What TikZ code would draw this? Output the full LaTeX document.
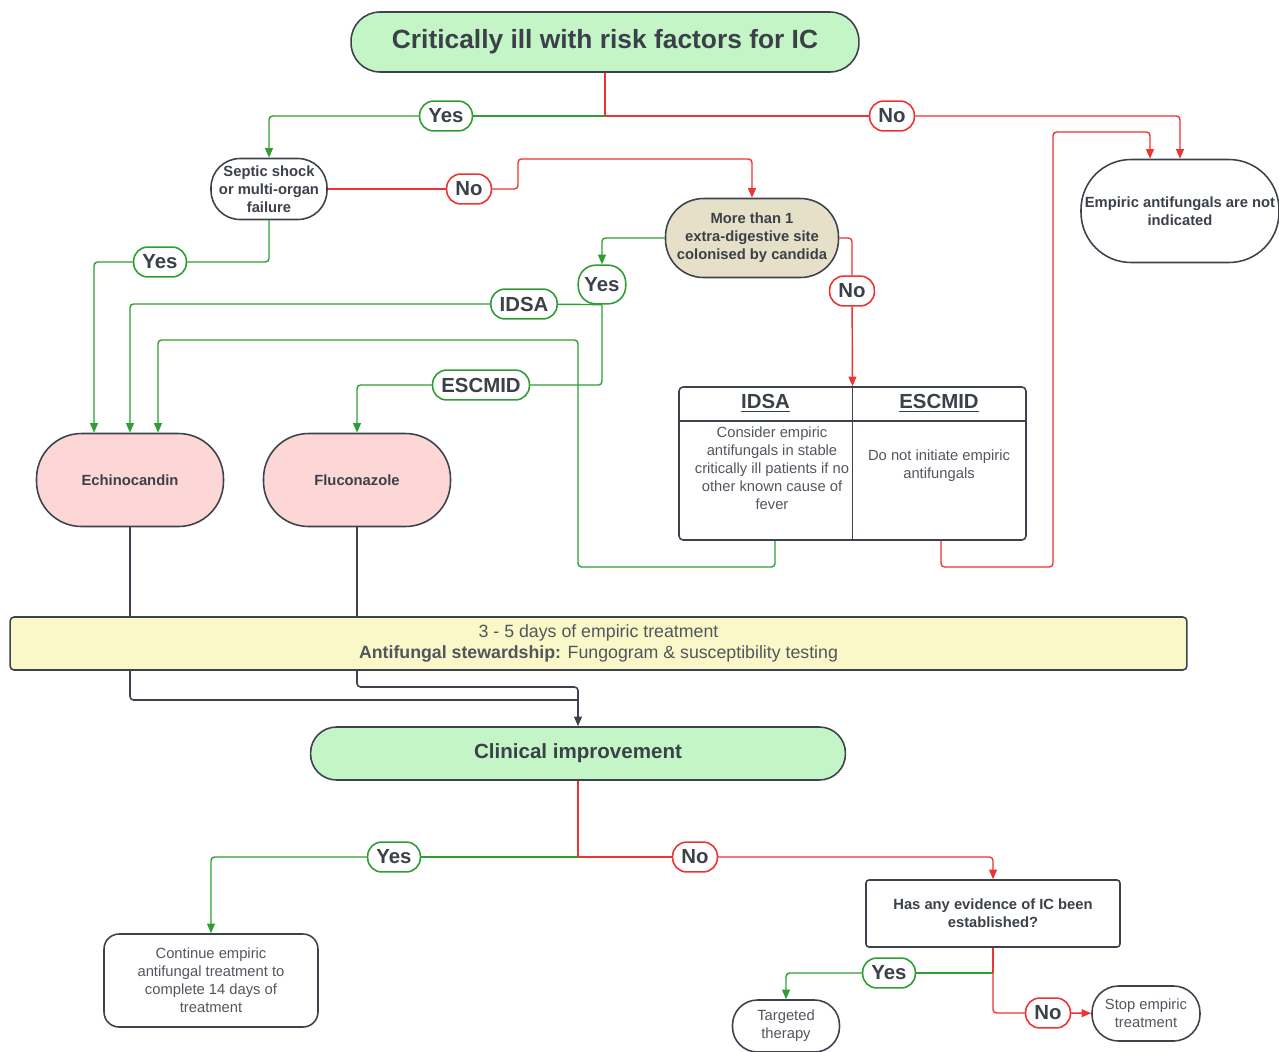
\documentclass[tikz,border=0pt]{standalone}
\usepackage{fontspec}
\setmainfont{Liberation Sans}
\usetikzlibrary{arrows.meta,calc}

\definecolor{mint}{HTML}{C3F5C6}
\definecolor{sand}{HTML}{E6E0C8}
\definecolor{rose}{HTML}{FDD6D6}
\definecolor{cream}{HTML}{FAF8C8}
\definecolor{edge}{HTML}{3D434C}
\definecolor{ink}{HTML}{3B4049}
\definecolor{inklt}{HTML}{51565E}
\definecolor{yesgreen}{HTML}{2E9E32}
\definecolor{nored}{HTML}{EE3333}

\newcommand{\fbig}{\fontsize{15}{18}\selectfont}
\newcommand{\fmid}{\fontsize{11.6}{14}\selectfont}
\newcommand{\fsm}{\fontsize{8.4}{10.25}\selectfont}
\newcommand{\fyel}{\fontsize{10.1}{12}\selectfont}

\tikzset{
  box/.style={draw=edge,line width=0.9pt,align=center,text=ink,inner sep=0pt},
  boldbox/.style={box,font=\fsm\bfseries},
  plainbox/.style={box,font=\fsm,text=inklt},
  yeslbl/.style={draw=yesgreen,line width=0.9pt,fill=white,rounded corners=8pt,
    minimum height=17pt,inner xsep=5pt,inner ysep=0pt,font=\fmid\bfseries,text=ink},
  nolbl/.style={yeslbl,draw=nored},
  grn/.style={yesgreen,line width=0.8pt,rounded corners=2pt},
  rd/.style={nored,line width=0.8pt,rounded corners=2pt},
  dk/.style={edge,line width=0.9pt,rounded corners=2pt}
}

\begin{document}
\begin{tikzpicture}[x=0.02cm,y=-0.02cm,>={Triangle[length=5.5pt,width=4.5pt]}]
        \useasboundingbox (0,0) rectangle (1279,1052);

        % boxes
        \node[boldbox,fill=mint,font=\fbig\bfseries,minimum width=10.16cm,minimum height=1.2cm,rounded corners=0.58cm] (title) at (605,42) {Critically ill with risk factors for IC};
        \node[boldbox,minimum width=2.32cm,minimum height=1.22cm,rounded corners=0.58cm] (septic) at (269,189) {Septic shock\\or multi-organ\\failure};
        \node[boldbox,fill=sand,minimum width=3.46cm,minimum height=1.58cm,rounded corners=0.76cm] (colon) at (752,238) {More than 1\\extra-digestive site\\colonised by candida};
        \node[boldbox,minimum width=3.96cm,minimum height=2.06cm,rounded corners=1cm] (noanti) at (1180,211) {Empiric antifungals are not\\indicated};
        \node[boldbox,fill=rose,minimum width=3.74cm,minimum height=1.86cm,rounded corners=0.9cm] (echino) at (130,480) {Echinocandin};
        \node[boldbox,fill=rose,minimum width=3.74cm,minimum height=1.86cm,rounded corners=0.9cm] (fluco) at (357,480) {Fluconazole};

        % guideline table
        \node[box,minimum width=6.94cm,minimum height=3.06cm,rounded corners=0.08cm] (tbl) at (852.5,463.5) {};
        \coordinate (hdr) at (0,421);
        \draw[edge,line width=0.9pt] (tbl.north) -- (tbl.south);
        \draw[edge,line width=0.9pt] (tbl.west |- hdr) -- (tbl.east |- hdr);
        \node[font=\fmid\bfseries,text=ink] (idsahd) at (765.5,403) {\underline{IDSA}};
        \node[font=\fmid\bfseries,text=ink] (escmidhd) at (939,403) {\underline{ESCMID}};
        \node[font=\fsm,text=inklt,align=center,inner sep=0pt] (idsatxt) at (772,468.5) {Consider empiric\\antifungals in stable\\critically ill patients if no\\other known cause of\\fever};
        \node[font=\fsm,text=inklt,align=center,inner sep=0pt] (escmidtxt) at (939,466) {Do not initiate empiric\\antifungals};

        \node[box,fill=cream,font=\fyel,text=inklt,minimum width=23.54cm,minimum height=1.06cm,rounded corners=0.08cm] (stew) at (598.5,643.5) {3 - 5 days of empiric treatment\\\textbf{Antifungal stewardship:} Fungogram \& susceptibility testing};
        \node[boldbox,fill=mint,font=\fontsize{11.7}{14}\selectfont\bfseries,minimum width=10.7cm,minimum height=1.06cm,rounded corners=0.52cm] (clinic) at (578,753.5) {Clinical improvement};
        \node[plainbox,minimum width=4.28cm,minimum height=1.86cm,rounded corners=0.3cm] (cont) at (211,980.5) {Continue empiric\\antifungal treatment to\\complete 14 days of\\treatment};
        \node[boldbox,minimum width=5.08cm,minimum height=1.34cm,rounded corners=0.06cm] (evid) at (993,913.5) {Has any evidence of IC been\\established?};
        \node[plainbox,minimum width=2.14cm,minimum height=1.04cm,rounded corners=0.5cm] (target) at (786,1026) {Targeted\\therapy};
        \node[plainbox,minimum width=2.16cm,minimum height=1.1cm,rounded corners=0.53cm] (stop) at (1146,1013.5) {Stop empiric\\treatment};

        % yes / no labels
        \node[yeslbl] (yes1) at (446,116) {Yes};
        \node[nolbl] (no1) at (892,116) {No};
        \node[nolbl] (no2) at (469,189) {No};
        \node[yeslbl] (yes2) at (160,262) {Yes};
        \node[yeslbl,minimum height=22pt,inner xsep=3.5pt,rounded corners=10pt] (yes3) at (602,284.5) {Yes};
        \node[yeslbl] (idsa) at (524,304) {IDSA};
        \node[yeslbl] (escmid) at (481,385) {ESCMID};
        \node[nolbl] (no3) at (852,291) {No};
        \node[yeslbl] (yes4) at (394,857) {Yes};
        \node[nolbl] (no4) at (695,857) {No};
        \node[yeslbl] (yes5) at (889,973) {Yes};
        \node[nolbl] (no5) at (1048,1013) {No};

        \coordinate (j1) at (605,116);
        \coordinate (c2) at (518,159);
        \coordinate (c3) at (578,567);
        \coordinate (c4) at (158,340);
        \coordinate (c5) at (1053,567);
        \coordinate (c6) at (1053,132);
        \coordinate (c7) at (578,700);
        \coordinate (c8) at (578,687);
        \coordinate (j3) at (578,857);
        \coordinate (j4) at (993,973);

        % connectors
        \draw[rd] (title.south) -- (j1);
        \draw[grn] (j1) -- (yes1);
        \draw[grn,->] (yes1) -| (septic);
        \draw[rd] (j1) -- (no1);
        \draw[rd,->] (no1) -| (noanti);

        \draw[rd] (septic) -- (no2);
        \draw[rd,->] (no2) -| (c2) -| (colon);
        \draw[grn] (septic) |- (yes2);
        \draw[grn,->] (yes2) -| ([xshift=-0.72cm]echino.north);

        \draw[grn,->] (colon) -| (yes3);
        \draw[grn] (yes3.south) -- (idsa);
        \draw[grn,->] (idsa) -| (echino);
        \draw[grn] (yes3.south) |- (escmid);
        \draw[grn,->] (escmid) -| (fluco);
        \draw[rd] (colon) -| (no3);
        \draw[rd,->] (no3) -- (tbl.north);

        \draw[grn,->] ([xshift=-1.55cm]tbl.south) |- (c3) |- (c4) -- ([xshift=0.56cm]echino.north);
        \draw[rd,->] ([xshift=1.77cm]tbl.south) |- (c5) -- (c6) -| ([xshift=-0.6cm]noanti.north);

        \draw[dk] (echino) -- (echino.south |- stew.north);
        \draw[dk] (fluco) -- (fluco.south |- stew.north);
        \draw[dk] (echino.south |- stew.south) |- (c7);
        \draw[dk,->] (fluco.south |- stew.south) |- (c8) -- (clinic);

        \draw[rd] (clinic) -- (j3);
        \draw[grn] (j3) -- (yes4);
        \draw[grn,->] (yes4) -| (cont);
        \draw[rd] (j3) -- (no4);
        \draw[rd,->] (no4) -| (evid);
        \draw[rd] (evid) -- (j4);
        \draw[grn] (j4) -- (yes5);
        \draw[grn,->] (yes5) -| (target);
        \draw[rd] (j4) |- (no5);
        \draw[rd,->] (no5) -- (stop);
    \end{tikzpicture}
\end{document}
